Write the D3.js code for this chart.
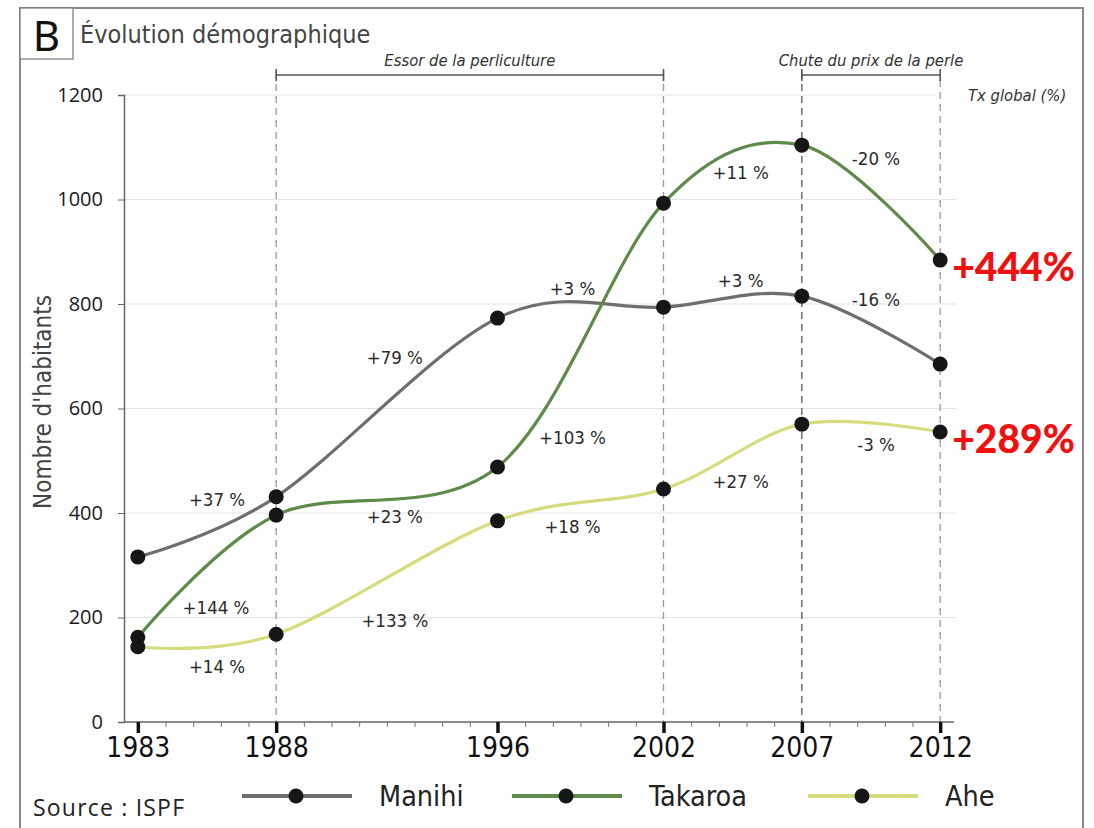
<!DOCTYPE html>
<html>
<head>
<meta charset="utf-8">
<script src="https://cdn.jsdelivr.net/npm/d3@7"></script>
<style>
  body { margin: 0; background: #fff; }
  svg { display: block; }
  .cond { font-family: "DejaVu Sans Condensed", "DejaVu Sans", sans-serif; font-stretch: condensed; }
</style>
</head>
<body>
<script>
"use strict";
// data
const years = [1983, 1988, 1996, 2002, 2007, 2012];
const manihi = [316, 431, 773, 794, 815, 685];
const takaroa = [162, 396, 488, 993, 1104, 884];
const ahe = [144, 168, 385, 446, 570, 555];
const seriesNames = ["Manihi", "Takaroa", "Ahe"];
const manihiRates = ["+37 %", "+79 %", "+3 %", "+3 %", "-16 %"];
const takaroaRates = ["+144 %", "+23 %", "+103 %", "+11 %", "-20 %"];
const aheRates = ["+14 %", "+133 %", "+18 %", "+27 %", "-3 %"];
const globalRates = ["", "+444%", "+289%"];
const yTicks = [0, 200, 400, 600, 800, 1000, 1200];
const periods = [
  { from: 1988, to: 2002, label: "Essor de la perliculture" },
  { from: 2007, to: 2012, label: "Chute du prix de la perle" }
];
const dashedYears = [1988, 2002, 2007, 2012];

const W = 1094, H = 828;
const colors = ["#6e6e6a", "#5e8a4a", "#d6dc7e"];

// label offsets (px) from segment midpoint, per series
const labelShift = [
  [[10, -28], [8, -50], [-8, -25], [8, -22], [5, -31]],
  [[9, 31], [8, 25], [-8, 102], [8, -2], [5, -45]],
  [[10, 26], [8, 42], [-8, 21], [8, 24], [5, 16]]
];

const svg = d3.select("body").append("svg").attr("width", W).attr("height", H);

const x = d3.scaleLinear().domain([1982.5, 2012.5]).range([124, 954]);
const y = d3.scaleLinear().domain([0, 1200]).range([722, 95]);

// frame
svg.append("path").attr("d", `M20,${H} L20,8 L1083,8 L1083,${H}`)
  .attr("fill", "none").attr("stroke", "#8a8a8a").attr("stroke-width", 2);
svg.append("rect").attr("x", 20).attr("y", 8).attr("width", 53).attr("height", 51)
  .attr("fill", "#fff").attr("stroke", "#777").attr("stroke-width", 1.2);
svg.append("text").attr("x", 46.5).attr("y", 51).attr("text-anchor", "middle")
  .attr("font-family", "Noto Sans, sans-serif").attr("font-size", 42).attr("fill", "#111").text("B");
svg.append("text").attr("x", 80).attr("y", 43).attr("class", "cond")
  .attr("font-size", 25).attr("fill", "#444").text("Évolution démographique");

// grid
svg.append("g").selectAll("line").data(yTicks.filter(d => d > 0)).join("line")
  .attr("x1", 124).attr("x2", d => d === 1200 ? 936 : 956)
  .attr("y1", d => y(d)).attr("y2", d => y(d))
  .attr("stroke", "#e4e4e4").attr("stroke-width", 1.2);

// dashed year lines
svg.append("g").selectAll("line").data(dashedYears).join("line")
  .attr("x1", d => x(d)).attr("x2", d => x(d))
  .attr("y1", (d, i) => i === 3 ? 80 : 72).attr("y2", 722)
  .attr("stroke", (d) => d === 2007 ? "#555" : "#999").attr("stroke-width", 1.3)
  .attr("stroke-dasharray", "7,5");

// period brackets
const pg = svg.append("g").selectAll("g").data(periods).join("g");
pg.append("line").attr("x1", d => x(d.from)).attr("x2", d => x(d.to))
  .attr("y1", 75).attr("y2", 75).attr("stroke", "#555").attr("stroke-width", 1.6);
pg.append("line").attr("x1", d => x(d.from)).attr("x2", d => x(d.from))
  .attr("y1", 69).attr("y2", 81).attr("stroke", "#555").attr("stroke-width", 1.6);
pg.append("line").attr("x1", d => x(d.to)).attr("x2", d => x(d.to))
  .attr("y1", 69).attr("y2", 81).attr("stroke", "#555").attr("stroke-width", 1.6);
pg.append("text").attr("class", "cond").attr("font-style", "italic").attr("font-size", 16.5)
  .attr("fill", "#333").attr("text-anchor", "middle")
  .attr("x", d => (x(d.from) + x(d.to)) / 2).attr("y", 66)
  .text(d => d.label);
svg.append("text").attr("class", "cond").attr("font-style", "italic").attr("font-size", 16.5)
  .attr("fill", "#333").attr("x", 968).attr("y", 101).text("Tx global (%)");

// y axis
const yAxis = svg.append("g").attr("transform", "translate(124,0)")
  .call(d3.axisLeft(y).tickValues(yTicks).tickSize(6).tickFormat(d3.format("d")));
yAxis.select(".domain").attr("stroke", "#666").attr("stroke-width", 1.5);
yAxis.selectAll(".tick line").attr("stroke", "#666");
yAxis.selectAll(".tick text").attr("font-family", "Open Sans, sans-serif")
  .attr("font-size", 20).attr("fill", "#1a1a1a").attr("x", -21);
svg.append("text").attr("class", "cond").attr("font-size", 24).attr("fill", "#444")
  .attr("text-anchor", "middle").attr("transform", "translate(51,402) rotate(-90)")
  .text("Nombre d'habitants");

// x axis: minor years then main years
const minor = d3.range(1983, 2013);
const xMinor = svg.append("g").attr("transform", "translate(0,722)")
  .call(d3.axisBottom(x).tickValues(minor).tickSize(5).tickFormat(""));
xMinor.select(".domain").attr("stroke", "#666").attr("stroke-width", 1.5)
  .attr("d", "M124,0H954");
xMinor.selectAll(".tick line").attr("stroke", "#777");
const xMajor = svg.append("g").attr("transform", "translate(0,722)")
  .call(d3.axisBottom(x).tickValues(years).tickSize(11).tickPadding(4).tickFormat(d3.format("d")));
xMajor.select(".domain").remove();
xMajor.selectAll(".tick line").attr("stroke", "#111").attr("stroke-width", 3.5);
xMajor.selectAll(".tick text").attr("class", "cond").attr("font-size", 28).attr("fill", "#111");

// lines
const all = [manihi, takaroa, ahe];
const allRates = [manihiRates, takaroaRates, aheRates];
const line = d3.line().x((d, i) => x(years[i])).y(d => y(d)).curve(d3.curveCardinal.tension(0));
svg.append("g").selectAll("path").data(all).join("path")
  .attr("d", d => line(d)).attr("fill", "none")
  .attr("stroke", (d, i) => colors[i]).attr("stroke-width", 3.2);

// rate labels
all.forEach((vals, s) => {
  svg.append("g").selectAll("text").data(allRates[s]).join("text")
    .attr("class", "cond").attr("font-size", 18.5).attr("fill", "#2a2a2a").attr("text-anchor", "middle")
    .attr("x", (d, i) => (x(years[i]) + x(years[i + 1])) / 2 + labelShift[s][i][0])
    .attr("y", (d, i) => (y(vals[i]) + y(vals[i + 1])) / 2 + labelShift[s][i][1] + 7)
    .text(d => d);
});

// dots
all.forEach(vals => {
  svg.append("g").selectAll("circle").data(vals).join("circle")
    .attr("cx", (d, i) => x(years[i])).attr("cy", d => y(d)).attr("r", 7.5)
    .attr("fill", "#161616");
});

// global rates
all.forEach((vals, s) => {
  if (!globalRates[s]) return;
  svg.append("text").attr("x", x(2012) + 12).attr("y", y(vals[vals.length - 1]) + 21)
    .attr("font-family", "Lato, sans-serif").attr("font-weight", 900).attr("font-size", 39)
    .attr("fill", "#f01010").text(globalRates[s]);
});

// legend
const legX = [242, 512, 808];
const lg = svg.append("g").selectAll("g").data(seriesNames).join("g")
  .attr("transform", (d, i) => `translate(${legX[i]},796)`);
lg.append("line").attr("x1", 0).attr("x2", 110).attr("stroke", (d, i) => colors[i]).attr("stroke-width", 4);
lg.append("circle").attr("cx", 54).attr("r", 7.5).attr("fill", "#161616");
lg.append("text").attr("class", "cond").attr("x", 137).attr("y", 10).attr("font-size", 28.5)
  .attr("fill", "#222").text(d => d);

svg.append("text").attr("x", 33).attr("y", 816).attr("font-family", "Open Sans, sans-serif")
  .attr("font-size", 23).attr("letter-spacing", 1.2).attr("fill", "#222").text("Source : ISPF");
</script>
</body>
</html>
